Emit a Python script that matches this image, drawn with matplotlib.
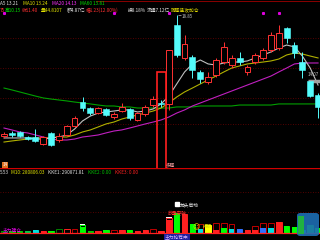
import matplotlib
matplotlib.use("Agg")
import matplotlib.pyplot as plt
from matplotlib.patches import Rectangle, FancyBboxPatch
from matplotlib.transforms import blended_transform_factory

plt.rcParams['font.family'] = ['Noto Sans CJK SC', 'DejaVu Sans']

# K线数据 (开, 收, 高, 低)
opens = [9.95, 10.18, 10.25, 9.88, 9.88, 9.37, 10.18, 9.66, 10.03, 10.69,
         12.45, 12.01, 11.64, 11.94, 11.35, 11.79, 11.94, 11.13, 11.57, 12.23,
         12.38, 12.31, 18.11, 15.69, 15.76, 14.66, 13.92, 14.44, 15.39, 15.17,
         15.69, 14.66, 15.39, 15.69, 16.28, 16.42, 17.89, 16.64, 15.39, 13.99, 12.97]
closes = [10.10, 10.03, 9.95, 9.73, 9.59, 9.88, 9.29, 9.95, 10.69, 11.28,
          12.01, 11.64, 12.01, 11.50, 11.57, 12.09, 11.28, 11.64, 12.09, 12.67,
          12.31, 16.28, 15.91, 16.72, 14.80, 14.14, 14.29, 15.54, 16.50, 15.69,
          15.39, 15.03, 15.91, 16.28, 17.38, 17.52, 17.16, 16.05, 14.80, 12.89, 12.09]
highs = [10.25, 10.32, 10.32, 9.95, 10.47, 9.95, 10.25, 10.18, 10.76, 11.42,
         12.82, 12.09, 12.09, 12.01, 11.72, 12.38, 12.01, 11.72, 12.23, 12.89,
         12.60, 16.28, 18.85, 17.38, 15.91, 14.80, 14.66, 15.69, 16.86, 15.91,
         16.13, 15.17, 16.05, 16.42, 17.60, 18.11, 17.97, 16.86, 16.13, 14.07, 13.11]
lows = [9.81, 9.88, 9.88, 9.66, 9.51, 9.29, 9.22, 9.51, 9.95, 10.62,
        11.79, 11.50, 11.57, 11.42, 11.20, 11.72, 11.13, 11.06, 11.42, 12.09,
        12.09, 11.87, 15.76, 15.54, 14.22, 13.85, 13.78, 14.29, 15.25, 14.95,
        15.17, 14.44, 15.25, 15.54, 16.13, 16.28, 16.79, 15.69, 14.22, 12.82, 11.28]

ma5 = [9.81, 9.81, 9.81, 9.81, 9.73, 9.73, 9.81, 9.88, 10.03, 10.47,
       11.06, 11.42, 11.64, 11.72, 11.79, 11.87, 11.87, 11.72, 11.79, 11.94,
       12.31, 12.89, 13.78, 14.66, 15.25, 15.54, 15.25, 15.17, 15.32, 15.39,
       15.39, 15.47, 15.69, 15.91, 16.13, 16.42, 16.64, 16.50, 15.83, 14.95, 13.70]
ma10 = [9.51, 9.59, 9.66, 9.73, 9.81, 9.81, 9.81, 9.88, 9.88, 10.03,
        10.25, 10.40, 10.62, 10.84, 10.98, 11.20, 11.35, 11.50, 11.64, 11.79,
        12.01, 12.38, 12.82, 13.19, 13.48, 13.78, 14.07, 14.36, 14.66, 14.95,
        15.10, 15.25, 15.32, 15.39, 15.47, 15.61, 15.91, 16.05, 15.98, 15.83, 15.69]
ma20 = [10.54, 10.40, 10.25, 10.18, 10.03, 9.88, 9.73, 9.66, 9.66, 9.73,
        9.88, 9.95, 10.03, 10.18, 10.32, 10.40, 10.54, 10.69, 10.84, 10.98,
        11.13, 11.35, 11.64, 11.87, 12.16, 12.38, 12.60, 12.82, 13.04, 13.26,
        13.48, 13.70, 13.92, 14.14, 14.36, 14.66, 14.95, 15.25, 15.32, 15.32, 15.32]
ma60 = [13.48, 13.34, 13.19, 13.04, 12.89, 12.75, 12.67, 12.60, 12.53, 12.45,
        12.38, 12.31, 12.23, 12.16, 12.16, 12.09, 12.09, 12.01, 12.01, 12.01,
        12.01, 12.01, 12.09, 12.09, 12.09, 12.16, 12.16, 12.16, 12.16, 12.16,
        12.23, 12.23, 12.23, 12.23, 12.23, 12.31, 12.31, 12.31, 12.31, 12.31, 12.31]

# 副图柱子
vol = [4, 4, 4, 5, 6, 5, 5, 8, 9, 9, 16, 5, 5, 6, 7, 7, 6, 5, 7, 8,
       4, 30, 40, 38, 18, 18, 16, 20, 20, 18, 8, 6, 14, 20, 20, 22, 14, 12, 6, 16, 10]
vol_fill = [4, 4, 4, 5, 6, 5, 5, 0, 0, 0, 12, 5, 5, 6, 0, 7, 6, 5, 7, 0,
            4, 26, 40, 38, 18, 8, 16, 6, 10, 8, 8, 6, 6, 10, 10, 22, 14, 12, 6, 16, 10]
fill_col = ['#008800', '#00cc00', '#00cc00', '#00cc44', '#00e0e0', '#ff2020', '#00ff00',
            '#000000', '#000000', '#000000', '#00ff00', '#00cc00', '#ff2020', '#00ff00',
            '#000000', '#ff2020', '#00ff00', '#ff2020', '#ff2020', '#000000', '#ff2020',
            '#ff2020', '#00ff00', '#ff2020', '#00ff00', '#00e0e0', '#ffff00', '#ff2020',
            '#00ff00', '#00e0e0', '#3070ff', '#ff2020', '#ff2020', '#3070ff', '#00e0e0',
            '#ff2020', '#00ff00', '#00ff00', '#00e0e0', '#00ff00', '#00ff00']
edge_col = ['#008800', '#00cc00', '#00cc00', '#00cc44', '#00e0e0', '#ff2020', '#00ff00',
            '#008000', '#ff2020', '#c00000', '#00ff00', '#00cc00', '#ff2020', '#00ff00',
            '#c00000', '#ff2020', '#00ff00', '#ff2020', '#ff2020', '#c00000', '#ff2020',
            '#ff2020', '#00ff00', '#ff2020', '#00ff00', '#c00000', '#ffff00', '#c00000',
            '#c00000', '#c00000', '#3070ff', '#ff2020', '#c00000', '#c00000', '#c00000',
            '#ff2020', '#00ff00', '#00ff00', '#00e0e0', '#00ff00', '#00ff00']
cap_idx = [10, 21]
signal_idx = [0, 14, 21, 33, 35]

W, H = 320, 240
fig = plt.figure(figsize=(3.2, 2.4), dpi=100, facecolor='black')

def ft(x, y, s, c, fs=3.4, **kw):
    fig.text(x / W, 1 - y / H, s, color=c, fontsize=fs, va='center', ha='left', **kw)

n = len(opens)
xlim = (-0.51, 40.25)

# 主图
ax = fig.add_axes([0, 1 - 150 / H, 1, 136 / H], facecolor='black')
ax.set_xlim(*xlim)
ax.set_ylim(8.925, 18.92)
for s in ax.spines.values():
    s.set_visible(False)
ax.set_xticks([])
ax.set_yticks([17.16, 14.95, 12.75, 10.84])
ax.tick_params(left=False, labelleft=False)
ax.grid(axis='y', color='#700000', ls=(0, (1, 2)), lw=0.6)

ax.plot(range(n), ma60, color='#00a000', lw=0.8)
ax.plot(range(n), ma20, color='#c020c0', lw=0.8)
ax.plot(range(n), ma10, color='#b0b000', lw=0.8)
ax.plot(range(n), ma5, color='#c0c0c0', lw=0.8)

for i in range(n):
    o, c, h, l = opens[i], closes[i], highs[i], lows[i]
    lo, hi = min(o, c), max(o, c)
    if c >= o:
        col = '#ff3232'
        ax.vlines(i, l, lo, color=col, lw=0.7)
        ax.vlines(i, hi, h, color=col, lw=0.7)
        ax.add_patch(Rectangle((i - 0.36, lo), 0.72, max(hi - lo, 0.05),
                               facecolor='black', edgecolor=col, lw=0.7, zorder=3))
    else:
        col = '#54fcfc'
        ax.vlines(i, l, h, color=col, lw=0.7)
        ax.add_patch(Rectangle((i - 0.38, lo), 0.76, max(hi - lo, 0.05),
                               facecolor=col, edgecolor=col, lw=0.4, zorder=3))

ax.plot(signal_idx, [19.0] * len(signal_idx), 's', color='#e000e0', ms=1.2, clip_on=False)
ax.text(22.6, 18.7, '18.85', color='#c0c0c0', fontsize=3.2, va='center')
ax.hlines(18.85, 22.1, 22.5, color='#c0c0c0', lw=0.5)
ax.hlines(13.96, 38.7, 40.3, color='#a0a0a0', lw=2.5)
ax.text(38.7, 14.45, '14.07', color='#c0c0c0', fontsize=3.2, va='center')

# 副图
ax2 = fig.add_axes([0, 1 - 236 / H, 1, 68 / H], facecolor='black')
ax2.set_xlim(*xlim)
ax2.set_ylim(-6, 130)
for s in ax2.spines.values():
    s.set_visible(False)
ax2.set_xticks([])
ax2.set_yticks([42, 82])
ax2.tick_params(left=False, labelleft=False)
ax2.grid(axis='y', color='#700000', ls=(0, (1, 2)), lw=0.6)
ax2.axhline(130, color='#d00000', lw=1.0)
ax2.axhline(0, color='#ff2020', lw=0.9, zorder=5)

ax2.bar(range(n), vol, width=0.7, facecolor='black', edgecolor=edge_col, lw=0.7)
ax2.bar(range(n), vol_fill, width=0.7, color=fill_col, lw=0)
for i in cap_idx:
    ax2.bar(i, 3, bottom=vol[i], width=0.7, color='white', lw=0)
ax2.plot(22, 58, 's', color='white', ms=2.2)
ax2.text(24.5, 12, '☺', color='#ffd000', fontsize=5, ha='center', va='center',
         family='DejaVu Sans')

# 顶部文字
fig.add_artist(plt.Line2D([0.3, 1], [1 - 0.8 / H] * 2, color='#a00000', lw=0.6))
ft(0, 3.5, 'A5 13.21', '#e0e0e0')
ft(23, 3.5, 'MA10 13.24', '#e0e000')
ft(52, 3.5, 'MA20 14.13', '#ff30ff')
ft(80, 3.5, 'MA60 13.81', '#00e000')
ft(0, 10.5, '75', '#ff3030')
ft(5, 10.5, '高10.15', '#00e000')
ft(22, 10.5, '收11.40', '#ff3030')
ft(41, 10.5, '量44.8107', '#e0e000')
ft(67, 10.5, '额4.87亿', '#e0e0e0')
ft(86, 10.5, '幅1.23(12.00%)', '#ff3030')
ft(128, 10.5, '换8.18%', '#e0e0e0')
ft(147, 10.5, '流通7.12亿', '#e0e0e0')
ft(171, 10.5, '阿强猛攻加仓', '#e8e000')

# 副图文字
ft(2.5, 165, '14', 'white', fs=3.2,
   bbox=dict(boxstyle='square,pad=0.15', fc='#e07020', ec='none'))
ft(166, 164.5, '多强', '#f0a0a0')
ft(0, 172.5, '5.53', '#e0e0e0')
ft(11, 172.5, 'M10: 280806.03', '#e0e000')
ft(48, 172.5, 'KKE1: 290871.81', '#e0e0e0')
ft(88, 172.5, 'KKE2: 0.00', '#00c000')
ft(115, 172.5, 'KKE3: 0.00', '#ff2020')
ft(180, 205, '龙头启动', '#f0f0f0')
ft(168, 214, '放量突破', '#ff3030')
ft(203, 226, '持股', '#e0e000')
ft(3, 230, '主力建仓', '#e000e0')
ft(165, 237, '主力抢筹中', '#d0b0ff',
   bbox=dict(boxstyle='square,pad=0.2', fc='#2020a0', ec='none'))

# 标记框
tr = blended_transform_factory(ax.transData, fig.transFigure)
ax.add_patch(Rectangle((19.48, 1 - 235 / H), 1.15, (235 - 72) / H, transform=tr,
                       facecolor='none', edgecolor='#ff2020', lw=1.2, clip_on=False, zorder=6))

# 右下角图标
fig.add_artist(FancyBboxPatch((297 / W, 1 - 236 / H), 22 / W, 23 / H,
                              boxstyle='round,pad=0,rounding_size=0.01',
                              transform=fig.transFigure, fc='#1e6eb4', ec='none', alpha=0.9))
fig.add_artist(Rectangle((298 / W, 1 - 234 / H), 6 / W, 18 / H,
                         transform=fig.transFigure, fc='#20b040', ec='none'))

fig.savefig('out.png', dpi=100, facecolor='black')
